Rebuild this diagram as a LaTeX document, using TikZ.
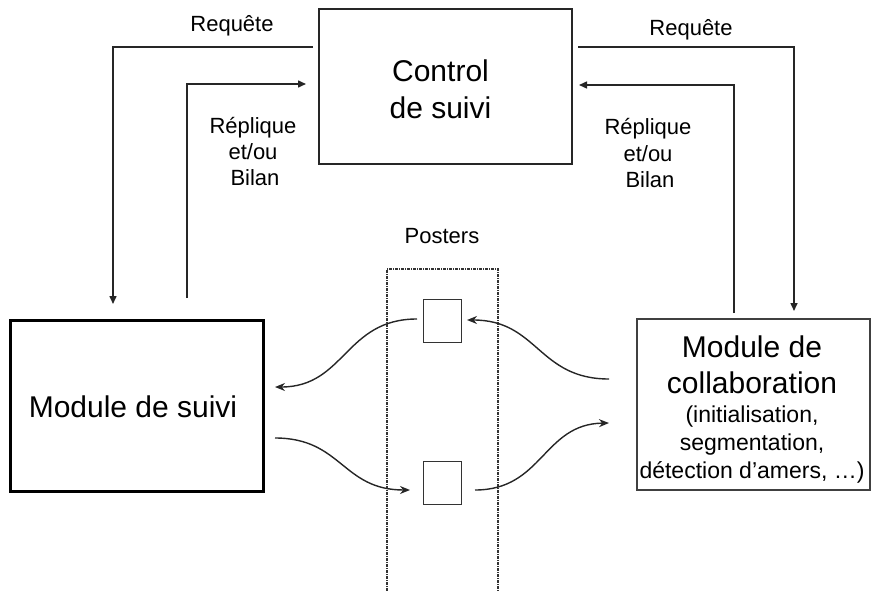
\documentclass[tikz,border=0pt]{standalone}
\usepackage{fontspec}
\setmainfont{Liberation Sans}
\usetikzlibrary{arrows.meta}
\begin{document}
\begin{tikzpicture}[x=1pt,y=-1pt,
  boxthin/.style={draw=black!85, line width=1.1pt, rectangle, inner sep=0pt},
  boxthick/.style={draw=black, line width=3pt, rectangle, inner sep=0pt},
  poster/.style={draw=black!80, line width=1pt, rectangle, inner sep=0pt, minimum width=38pt, minimum height=43pt},
  flow/.style={draw=black!85, line width=1.5pt, -{Triangle[length=8pt,width=7pt]}},
  wavy/.style={draw=black!85, line width=1.4pt, -{Stealth[length=10pt,width=8pt]}},
  big/.style={font=\fontsize{30}{36}\selectfont, anchor=base, inner sep=0pt},
  lab/.style={font=\fontsize{22}{26}\selectfont, anchor=base, inner sep=0pt},
  sub/.style={font=\fontsize{23}{28}\selectfont, anchor=base, inner sep=0pt},
  postline/.style={draw=black!80, line width=1.2pt, dash pattern=on 3pt off 1pt on 1pt off 1pt}
]
\useasboundingbox (0,0) rectangle (872,591);

% boxes
\node[boxthin, minimum width=253pt, minimum height=155pt] (ctrl) at (445.5,86.5) {};
\node[boxthick, minimum width=253pt, minimum height=171pt] (suivi) at (136.5,405.5) {};
\node[boxthin, draw=black!75, minimum width=233pt, minimum height=171pt] (collab) at (753.5,404.5) {};
\node[poster] (p1) at (442,320.5) {};
\node[poster] (p2) at (442,482.5) {};

% texts
\node[big] (t1) at (440.5,82) {Control};
\node[big] (t2) at (440.5,118) {de suivi};
\node[big] (t3) at (133,417) {Module de suivi};
\node[big] (t4) at (752,357) {Module de};
\node[big] (t5) at (752,393) {collaboration};
\node[sub] (t6) at (752,422) {(initialisation,};
\node[sub] (t7) at (752,450) {segmentation,};
\node[sub] (t8) at (752,478) {détection d’amers, …)};

\node[lab] (rq1) at (232,32) {Requête};
\node[lab] (rq2) at (691,36) {Requête};
\node[lab] (r1a) at (253,133) {Réplique};
\node[lab] (r1b) at (253,159) {et/ou};
\node[lab] (r1c) at (255,185) {Bilan};
\node[lab] (r2a) at (648,135) {Réplique};
\node[lab] (r2b) at (648,161) {et/ou};
\node[lab] (r2c) at (650,187) {Bilan};
\node[lab] (post) at (442,243) {Posters};

% posters zone (dashed, open at bottom)
\coordinate (zbl) at (387,591);
\coordinate (ztl) at (387,269);
\coordinate (ztr) at (498,269);
\coordinate (zbr) at (498,591);
\draw[postline] (zbl) -- (ztl) -- (ztr) -- (zbr);

% control connectors
\coordinate (a1s) at (313,47);
\coordinate (a1e) at (113,304);
\draw[flow] (a1s) -| (a1e);
\coordinate (a2s) at (187,298);
\coordinate (a2e) at (306,84);
\draw[flow] (a2s) |- (a2e);
\coordinate (a3s) at (578,47);
\coordinate (a3e) at (794,311);
\draw[flow] (a3s) -| (a3e);
\coordinate (a4s) at (734,313);
\coordinate (a4e) at (579,85);
\draw[flow] (a4s) |- (a4e);

% wavy poster connectors
\coordinate (c1s) at (417,319);
\coordinate (c1e) at (275,387);
\draw[wavy] (c1s) .. controls (345,319) and (345,387) .. (c1e);
\coordinate (c2s) at (609,379);
\coordinate (c2e) at (467,320);
\draw[wavy] (c2s) .. controls (538,379) and (538,320) .. (c2e);
\coordinate (c3s) at (275,438);
\coordinate (c3e) at (410,490);
\draw[wavy] (c3s) .. controls (342,438) and (342,490) .. (c3e);
\coordinate (c4s) at (475,490);
\coordinate (c4e) at (609,423);
\draw[wavy] (c4s) .. controls (543,490) and (543,424) .. (c4e);
\end{tikzpicture}
\end{document}
